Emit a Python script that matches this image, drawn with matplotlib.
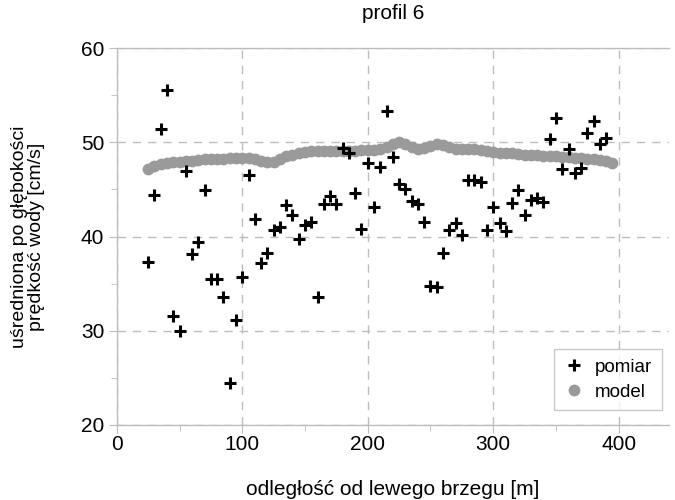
import matplotlib
matplotlib.use("Agg")
import matplotlib.pyplot as plt
from matplotlib.ticker import MultipleLocator

plt.rcParams['font.family'] = ['Liberation Sans', 'DejaVu Sans']

# pomiar (measured)
x_pom = [25, 30, 35, 40, 45, 50, 55, 60, 65, 70, 75, 80, 85, 90, 95, 100,
         105, 110, 115, 120, 125, 130, 135, 140, 145, 150, 155, 160, 165, 170,
         175, 180, 185, 190, 195, 200, 205, 210, 215, 220, 225, 230, 235, 240,
         245, 250, 255, 260, 265, 270, 275, 280, 285, 290, 295, 300, 305, 310,
         315, 320, 325, 330, 335, 340, 345, 350, 355, 360, 365, 370, 375, 380,
         385, 390]
y_pom = [37.3, 44.4, 51.4, 55.5, 31.6, 30.0, 47.0, 38.1, 39.4, 44.9, 35.5, 35.5,
         33.6, 24.5, 31.1, 35.7, 46.5, 41.9, 37.2, 38.3, 40.7, 41.0, 43.3, 42.3,
         39.7, 41.2, 41.5, 33.6, 43.5, 44.3, 43.4, 49.4, 48.9, 44.6, 40.8, 47.8,
         43.1, 47.4, 53.3, 48.4, 45.6, 45.0, 43.8, 43.5, 41.5, 34.8, 34.6, 38.2,
         40.7, 41.4, 40.2, 46.0, 46.0, 45.8, 40.7, 43.1, 41.4, 40.6, 43.6, 44.9,
         42.3, 43.9, 44.1, 43.7, 50.3, 52.6, 47.2, 49.3, 46.7, 47.3, 51.0, 52.3,
         49.8, 50.5]

# model
x_mod = list(range(25, 400, 5))
y_mod = [47.2, 47.5, 47.7, 47.8, 47.9, 47.9, 48.0, 48.0, 48.1, 48.2, 48.2, 48.2,
         48.2, 48.3, 48.3, 48.3, 48.3, 48.2, 48.0, 47.9, 47.9, 48.2, 48.5, 48.7,
         48.9, 49.0, 49.1, 49.1, 49.1, 49.1, 49.1, 49.1, 49.1, 49.1, 49.2, 49.2,
         49.2, 49.3, 49.5, 49.8, 50.0, 49.8, 49.5, 49.3, 49.4, 49.6, 49.8, 49.7,
         49.5, 49.3, 49.3, 49.3, 49.3, 49.2, 49.1, 49.0, 48.9, 48.9, 48.9, 48.8,
         48.7, 48.7, 48.6, 48.5, 48.5, 48.5, 48.4, 48.4, 48.3, 48.3, 48.2, 48.2,
         48.1, 48.0, 47.8]

fig = plt.figure(figsize=(6.75, 5), dpi=100)
ax = fig.add_axes([0.173, 0.15, 0.818, 0.754])

grid_col = '#bdbdbd'
ax.plot(x_mod, y_mod, 'o', color='#9a9a9a', markersize=8.5, markeredgewidth=0,
        label='model', zorder=2)
ax.plot(x_pom, y_pom, '+', color='black', markersize=8.5, markeredgewidth=2.2,
        label='pomiar', zorder=3)

ax.set_xlim(0, 440)
ax.set_ylim(20, 60)
ax.xaxis.set_major_locator(MultipleLocator(100))
ax.xaxis.set_minor_locator(MultipleLocator(50))
ax.yaxis.set_major_locator(MultipleLocator(10))
ax.yaxis.set_minor_locator(MultipleLocator(5))

ax.grid(True, which='major', color=grid_col, linestyle=(0, (6, 5)), linewidth=1)
ax.set_axisbelow(True)

for s in ['left', 'bottom', 'top']:
    ax.spines[s].set_color(grid_col)
    ax.spines[s].set_linewidth(1)
ax.spines['right'].set_visible(False)

ax.tick_params(which='major', direction='out', length=6, color=grid_col,
               labelsize=15)
ax.tick_params(axis='y', which='major', pad=3)
ax.tick_params(axis='x', which='major', pad=1)
ax.tick_params(which='minor', direction='out', length=4, color=grid_col)

ax.set_title('profil 6', fontsize=15, pad=21)
ax.set_xlabel('odległość od lewego brzegu [m]', fontsize=15, labelpad=19)
ax.set_ylabel('uśredniona po głębokości\nprędkość wody [cm/s]', fontsize=14,
              labelpad=26, linespacing=1.0)

h, l = ax.get_legend_handles_labels()
leg = ax.legend([h[1], h[0]], [l[1], l[0]], loc='lower right',
                bbox_to_anchor=(0.987, 0.04), fontsize=13.5, frameon=True,
                fancybox=False, edgecolor=grid_col, handletextpad=0.5,
                borderpad=0.5, handlelength=1.2, labelspacing=0.4,
                borderaxespad=0)
leg.get_frame().set_linewidth(1)

fig.savefig('out.png', dpi=100)
